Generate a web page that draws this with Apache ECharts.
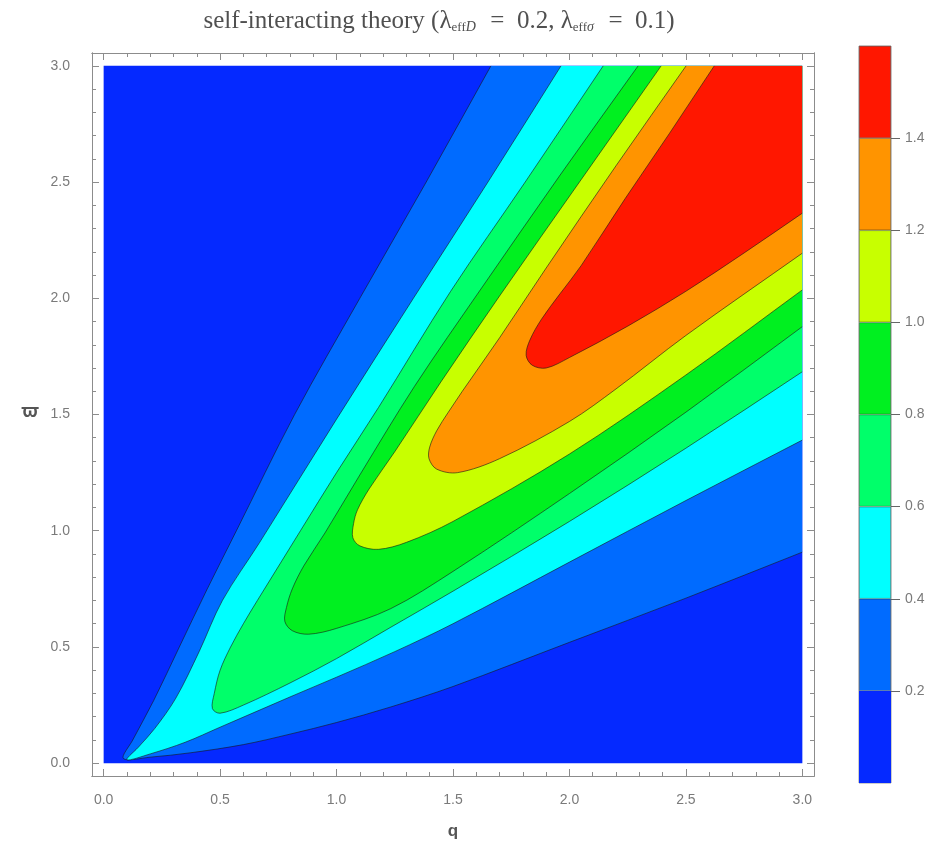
<!DOCTYPE html>
<html>
<head>
<meta charset="utf-8">
<script src="https://cdn.jsdelivr.net/npm/echarts@6/dist/echarts.min.js"></script>
<style>
html,body{margin:0;padding:0;background:#fff;}
#chart{width:944px;height:860px;}
</style>
</head>
<body>
<div id="chart"></div>
<script>
// contour levels and band colours
const levels = [0.2, 0.4, 0.6, 0.8, 1.0, 1.2, 1.4];
const bandColors = ['#0529ff', '#006bff', '#00ffff', '#00ff6a', '#00f020', '#c8ff00', '#ff9400', '#ff1700'];
const xTicks = [0, 0.5, 1.0, 1.5, 2.0, 2.5, 3.0];
const yTicks = [0, 0.5, 1.0, 1.5, 2.0, 2.5, 3.0];
const barTicks = [0.2, 0.4, 0.6, 0.8, 1.0, 1.2, 1.4];

// contour branches, as (q, varpi); each starts at the tip
const c02Upper = [[0.085,0.02],[0.125,0.10],[0.215,0.27],[0.325,0.50],[0.445,0.75],[0.57,1.0],[0.82,1.5],[1.10,2.0],[1.385,2.5],[1.663,3.0]];
const c02Lower = [[0.085,0.02],[0.2,0.026],[0.374,0.045],[0.6,0.08],[0.8,0.125],[1.0,0.175],[1.233,0.242],[1.5,0.33],[2.0,0.52],[2.5,0.71],[3.0,0.908]];
const c04Upper = [[0.10,0.015],[0.15,0.07],[0.22,0.15],[0.31,0.28],[0.41,0.48],[0.51,0.70],[0.67,0.95],[1.00,1.48],[1.33,2.0],[1.65,2.5],[1.964,3.0]];
const c04Lower = [[0.10,0.015],[0.2,0.04],[0.35,0.09],[0.5,0.155],[0.8,0.285],[1.0,0.37],[1.25,0.48],[1.5,0.60],[2.0,0.865],[2.5,1.13],[3.0,1.39]];
const c06Upper = [[0.467,0.235],[0.475,0.30],[0.50,0.40],[0.545,0.50],[0.60,0.60],[0.66,0.70],[0.845,1.0],[1.0,1.25],[1.18,1.53],[1.49,2.03],[1.81,2.5],[2.145,3.0]];
const c06Lower = [[0.467,0.235],[0.50,0.215],[0.6,0.25],[0.8,0.345],[1.0,0.45],[1.233,0.585],[1.5,0.74],[2.0,1.04],[2.5,1.355],[3.0,1.684]];
const c08Upper = [[0.778,0.61],[0.785,0.67],[0.81,0.75],[0.86,0.85],[0.95,0.99],[1.10,1.24],[1.334,1.62],[1.62,2.04],[1.96,2.53],[2.295,3.0]];
const c08Lower = [[0.778,0.61],[0.81,0.57],[0.88,0.555],[1.0,0.58],[1.233,0.665],[1.5,0.825],[2.0,1.16],[2.5,1.51],[3.0,1.878]];
const c10Upper = [[1.07,0.97],[1.073,1.03],[1.09,1.09],[1.14,1.18],[1.25,1.34],[1.448,1.64],[1.70,2.01],[2.05,2.51],[2.394,3.0]];
const c10Lower = [[1.07,0.97],[1.10,0.935],[1.18,0.92],[1.3,0.95],[1.5,1.04],[2.0,1.33],[2.5,1.67],[3.0,2.036]];
const c12Upper = [[1.397,1.31],[1.40,1.36],[1.43,1.43],[1.48,1.51],[1.54,1.60],[1.70,1.83],[1.90,2.13],[2.2,2.57],[2.501,3.0]];
const c12Lower = [[1.397,1.31],[1.43,1.265],[1.52,1.25],[1.7,1.31],[2.0,1.47],[2.2,1.61],[2.5,1.84],[3.0,2.194]];
const c14Upper = [[1.814,1.755],[1.83,1.82],[1.88,1.91],[1.96,2.02],[2.05,2.14],[2.24,2.43],[2.43,2.71],[2.622,3.0]];
const c14Lower = [[1.814,1.755],[1.84,1.712],[1.90,1.70],[2.0,1.745],[2.25,1.88],[2.5,2.03],[2.75,2.195],[3.0,2.366]];

const uppers = [c02Upper, c04Upper, c06Upper, c08Upper, c10Upper, c12Upper, c14Upper];
const lowers = [c02Lower, c04Lower, c06Lower, c08Lower, c10Lower, c12Lower, c14Lower];

const qMin = 0, qMax = 3, wMin = 0, wMax = 3;

function range(a, b, s) { const r = []; for (let v = a; v <= b + 1e-9; v += s) r.push(Math.round(v * 10) / 10); return r; }
const minorX = range(0, 3, 0.1).filter(v => Math.abs(v * 2 - Math.round(v * 2)) > 1e-6);
const minorY = minorX.slice();

// smooth path (chord-length Catmull-Rom as cubic Beziers) through pixel points
function smoothPath(pts) {
  const n = pts.length;
  const dist = (a, b) => Math.hypot(b[0] - a[0], b[1] - a[1]) || 1e-6;
  const tan = [];
  for (let i = 0; i < n; i++) {
    const a = pts[Math.max(0, i - 1)], b = pts[Math.min(n - 1, i + 1)];
    const L = (i > 0 ? dist(pts[i - 1], pts[i]) : 0) + (i < n - 1 ? dist(pts[i], pts[i + 1]) : 0);
    tan.push([(b[0] - a[0]) / L, (b[1] - a[1]) / L]);
  }
  let d = 'M' + pts[0][0].toFixed(2) + ' ' + pts[0][1].toFixed(2);
  for (let i = 0; i < n - 1; i++) {
    const p1 = pts[i], p2 = pts[i + 1], s = dist(p1, p2) / 3;
    const c1 = [p1[0] + tan[i][0] * s, p1[1] + tan[i][1] * s];
    const c2 = [p2[0] - tan[i + 1][0] * s, p2[1] - tan[i + 1][1] * s];
    d += ' C' + c1[0].toFixed(2) + ' ' + c1[1].toFixed(2) + ' ' + c2[0].toFixed(2) + ' ' + c2[1].toFixed(2) + ' ' + p2[0].toFixed(2) + ' ' + p2[1].toFixed(2);
  }
  return d;
}

const chart = echarts.init(document.getElementById('chart'), null, {renderer: 'canvas'});
const greyTxt = '#7a7a7a';
const frameCol = '#8c8c8c';
const fmt = v => v.toFixed(1);
const serif = 'Liberation Serif, DejaVu Serif, serif';

function mkX(pos, major, withLabel, extra) {
  return Object.assign({
    type: 'value', gridIndex: 0, position: pos, min: -0.05, max: 3.05,
    axisLine: {show: true, onZero: false, lineStyle: {color: frameCol, width: 1}},
    axisTick: {show: true, inside: true, length: major ? 7 : 4, customValues: major ? xTicks : minorX, lineStyle: {color: frameCol}},
    axisLabel: withLabel ? {show: true, customValues: xTicks, formatter: fmt, color: greyTxt, fontSize: 14, fontFamily: 'Liberation Sans, Arial', margin: 17} : {show: false},
    splitLine: {show: false}
  }, extra || {});
}
function mkY(pos, major, withLabel, extra) {
  return Object.assign({
    type: 'value', gridIndex: 0, position: pos, min: -0.055, max: 3.055,
    axisLine: {show: true, onZero: false, lineStyle: {color: frameCol, width: 1}},
    axisTick: {show: true, inside: true, length: major ? 7 : 4, customValues: major ? yTicks : minorY, lineStyle: {color: frameCol}},
    axisLabel: withLabel ? {show: true, customValues: yTicks, formatter: fmt, color: greyTxt, fontSize: 14, fontFamily: 'Liberation Sans, Arial', margin: 22} : {show: false},
    splitLine: {show: false}
  }, extra || {});
}

const option = {
  animation: false,
  backgroundColor: '#ffffff',
  title: {
    text: '{m|self-interacting theory (λ}{s|eff}{si|D}{m|  =  0.2, λ}{s|eff}{si|σ}{m|  =  0.1)}',
    left: 434, top: 0, textAlign: 'center',
    textStyle: {
      fontFamily: serif, fontSize: 25, color: '#505050', fontWeight: 'normal',
      rich: {
        m: {fontFamily: serif, fontSize: 25, color: '#505050', verticalAlign: 'bottom', lineHeight: 29},
        s: {fontFamily: serif, fontSize: 13, color: '#505050', verticalAlign: 'bottom', lineHeight: 22},
        si: {fontFamily: serif, fontSize: 14, color: '#505050', fontStyle: 'italic', verticalAlign: 'bottom', lineHeight: 22, padding: [0, 2, 0, 0]}
      }
    }
  },
  graphic: [
    {type: 'text', left: 21, top: 403, style: {text: 'ϖ', fill: '#555', font: 'bold 18px "Noto Sans", "DejaVu Sans", sans-serif'}}
  ],
  grid: [
    {left: 92, top: 53, width: 722, height: 723, show: false, containLabel: false},
    {left: 859, top: 46, width: 32, height: 737, show: true, borderColor: '#9a9a9a', borderWidth: 1, containLabel: false}
  ],
  xAxis: [
    mkX('bottom', true, true, {name: 'q', nameLocation: 'middle', nameGap: 47, nameTextStyle: {color: '#555', fontSize: 17, fontWeight: 'bold', fontFamily: 'Liberation Sans, Arial'}}),
    mkX('bottom', false, false),
    mkX('top', true, false),
    mkX('top', false, false),
    {type: 'category', gridIndex: 1, data: ['bar'], show: false}
  ],
  yAxis: [
    mkY('left', true, true),
    mkY('left', false, false),
    mkY('right', true, false),
    mkY('right', false, false),
    {
      type: 'value', gridIndex: 1, position: 'right', min: 0, max: 1.6,
      axisLine: {show: false},
      axisTick: {show: true, inside: false, length: 9, customValues: barTicks, lineStyle: {color: '#666'}},
      axisLabel: {show: true, customValues: barTicks, formatter: fmt, color: greyTxt, fontSize: 14, fontFamily: 'Liberation Sans, Arial', margin: 14},
      splitLine: {show: false}
    }
  ],
  series: [
    {
      type: 'custom',
      xAxisIndex: 0, yAxisIndex: 0,
      coordinateSystem: 'cartesian2d',
      data: [0, 1, 2, 3, 4, 5, 6, 7].map(i => [i]),
      silent: true,
      renderItem: function (params, api) {
        const idx = api.value(0);
        const tl = api.coord([qMin, wMax]);
        const br = api.coord([qMax, wMin]);
        const clip = {type: 'rect', shape: {x: tl[0], y: tl[1], width: br[0] - tl[0], height: br[1] - tl[1]}};
        if (idx === 0) {
          return {type: 'rect', shape: clip.shape, style: {fill: bandColors[0]}};
        }
        const up = uppers[idx - 1], lo = lowers[idx - 1];
        const curve = up.slice().reverse().concat(lo.slice(1));
        const curvePx = curve.map(p => api.coord(p));
        const linePath = smoothPath(curvePx);
        const corner = api.coord([qMax, wMax]);
        const fillPath = linePath + ' L' + corner[0] + ' ' + corner[1] + ' Z';
        return {
          type: 'group',
          children: [
            {type: 'path', shape: {pathData: fillPath}, style: {fill: bandColors[idx], stroke: null}, clipPath: clip},
            {type: 'path', shape: {pathData: linePath}, style: {stroke: 'rgba(25,25,25,0.6)', lineWidth: 1, fill: null}, clipPath: clip}
          ]
        };
      }
    }
  ].concat(bandColors.map((c, i) => ({
    type: 'bar', xAxisIndex: 4, yAxisIndex: 4, stack: 'legend', barWidth: '100%',
    data: [(i === bandColors.length - 1 ? 1.6 : levels[i]) - (i === 0 ? 0 : levels[i - 1])],
    itemStyle: {color: c, borderColor: 'rgba(30,30,30,0.5)', borderWidth: i === 0 ? 0 : 0.7},
    silent: true
  })))
};
chart.setOption(option);
</script>
</body>
</html>
